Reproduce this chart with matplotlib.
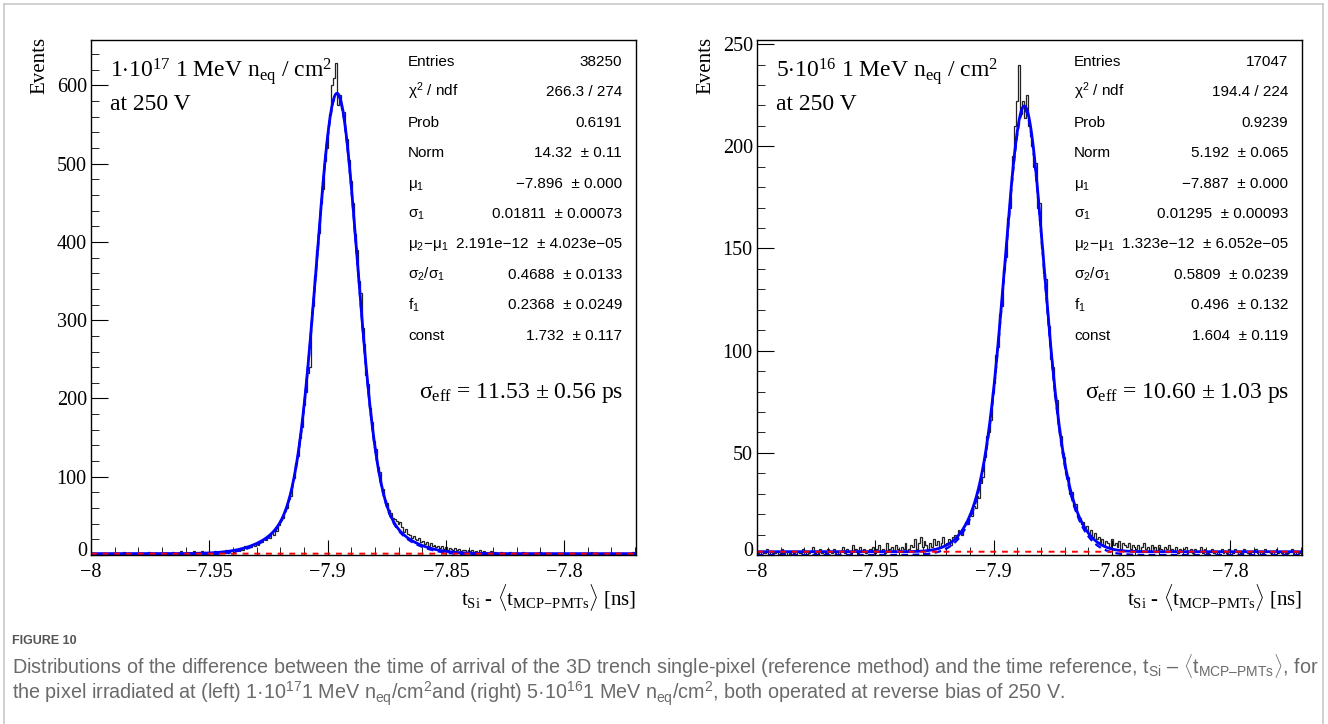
import numpy as np
import matplotlib
matplotlib.use('Agg')
import matplotlib.pyplot as plt
from matplotlib.ticker import MultipleLocator, FuncFormatter
from matplotlib.lines import Line2D

plt.rcParams['font.family'] = ['Liberation Serif', 'DejaVu Serif']
plt.rcParams['mathtext.fontset'] = 'custom'
plt.rcParams['mathtext.rm'] = 'Liberation Serif'
plt.rcParams['mathtext.it'] = 'Liberation Serif:italic'
plt.rcParams['mathtext.sf'] = 'Liberation Sans'

# histogram binning (ns)
x_lo = -8.0
bin_w = 0.0008
n_bins = 288

# bin contents
counts_left = [
    1, 2, 0, 1, 3, 1, 2, 2, 0, 1,
    2, 3, 1, 0, 2, 1, 2, 4, 1, 2,
    2, 1, 3, 2, 0, 2, 3, 1, 2, 2,
    4, 1, 2, 3, 2, 1, 3, 2, 2, 3,
    2, 3, 1, 4, 2, 3, 2, 5, 3, 2,
    3, 4, 2, 3, 5, 3, 4, 3, 5, 4,
    3, 2, 4, 2, 3, 5, 2, 4, 3, 5,
    4, 6, 3, 5, 7, 4, 6, 8, 5, 9,
    7, 11, 9, 12, 10, 14, 11, 15, 13, 18,
    16, 21, 19, 24, 22, 28, 26, 34, 31, 38,
    45, 47, 58, 60, 72, 76, 92, 98, 118, 127,
    150, 163, 192, 208, 232, 240, 296, 318, 356, 390,
    412, 450, 468, 503, 520, 548, 563, 600, 610, 628,
    575, 588, 570, 566, 540, 532, 505, 478, 450, 410,
    390, 350, 335, 290, 270, 230, 218, 188, 170, 146,
    135, 112, 106, 88, 84, 70, 66, 57, 54, 47,
    46, 44, 40, 42, 36, 30, 33, 27, 26, 22,
    24, 20, 19, 22, 16, 18, 14, 17, 12, 15,
    12, 13, 10, 11, 9, 12, 8, 10, 7, 9,
    8, 7, 9, 6, 8, 5, 7, 6, 4, 7,
    5, 6, 4, 5, 3, 6, 4, 5, 2, 4,
    3, 5, 2, 4, 3, 2, 4, 1, 3, 2,
    2, 4, 1, 3, 2, 3, 1, 2, 4, 2,
    1, 2, 3, 2, 1, 3, 2, 4, 1, 2,
    3, 1, 2, 2, 0, 3, 1, 2, 3, 1,
    2, 3, 1, 2, 1, 3, 2, 0, 2, 1,
    3, 2, 1, 2, 4, 1, 2, 3, 1, 2,
    2, 1, 3, 2, 1, 2, 0, 3, 2, 1,
    2, 3, 1, 2, 1, 2, 4, 2,
]
counts_right = [
    1, 0, 2, 1, 1, 3, 0, 2, 1, 1,
    2, 0, 1, 3, 1, 2, 0, 1, 2, 1,
    0, 2, 1, 1, 3, 2, 0, 1, 2, 4,
    1, 2, 0, 3, 1, 2, 1, 3, 2, 1,
    3, 1, 2, 0, 2, 4, 1, 3, 2, 1,
    5, 2, 3, 1, 4, 2, 3, 1, 2, 3,
    2, 4, 1, 3, 5, 2, 3, 1, 6, 2,
    3, 4, 2, 5, 3, 2, 4, 3, 6, 2,
    3, 5, 4, 8, 3, 6, 9, 4, 7, 5,
    3, 6, 4, 8, 5, 7, 4, 6, 9, 5,
    6, 8, 5, 9, 10, 8, 12, 11, 10, 14,
    16, 15, 20, 19, 24, 23, 29, 28, 35, 38,
    48, 58, 60, 66, 80, 84, 98, 102, 118, 122,
    140, 146, 165, 170, 186, 195, 210, 222, 240, 216,
    222, 214, 225, 210, 205, 200, 190, 192, 170, 172,
    150, 138, 135, 118, 112, 96, 92, 78, 76, 62,
    58, 50, 48, 40, 38, 30, 31, 24, 25, 19,
    18, 15, 16, 13, 14, 10, 12, 9, 11, 8,
    9, 6, 8, 5, 7, 6, 4, 8, 5, 6,
    4, 7, 3, 6, 5, 4, 6, 3, 5, 4,
    3, 5, 2, 4, 6, 3, 4, 2, 5, 3,
    4, 2, 5, 3, 2, 4, 3, 5, 2, 3,
    2, 4, 1, 3, 2, 3, 4, 1, 2, 3,
    1, 3, 2, 2, 4, 1, 3, 2, 1, 2,
    3, 1, 2, 0, 2, 3, 1, 2, 1, 3,
    2, 1, 3, 2, 0, 2, 1, 3, 2, 1,
    1, 2, 2, 3, 1, 0, 2, 1, 3, 2,
    2, 1, 0, 2, 3, 1, 2, 1, 2, 1,
    1, 2, 3, 1, 0, 2, 1, 2,
]

# fit parameters from the stat boxes: norm, mu1, sigma1, mu2-mu1, sigma2/sigma1, f1, const
fit_left = [14.32, -7.896, 0.01811, 2.191e-12, 0.4688, 0.2368, 1.732]
fit_right = [5.192, -7.887, 0.01295, 1.323e-12, 0.5809, 0.496, 1.604]

stat_labels = ['Entries', r'$\mathsf{\chi^{2}}$ / ndf', 'Prob', 'Norm',
               r'$\mathsf{\mu_{1}}$', r'$\mathsf{\sigma_{1}}$',
               r'$\mathsf{\mu_{2}{-}\mu_{1}}$', r'$\mathsf{\sigma_{2}/\sigma_{1}}$',
               r'$\mathsf{f_{1}}$', 'const']
stat_vals_left = ['38250', '266.3 / 274', '0.6191', '14.32  \u00b1 0.11',
                  '\u22127.896  \u00b1 0.000', '0.01811  \u00b1 0.00073',
                  '2.191e\u221212  \u00b1 4.023e\u221205', '0.4688  \u00b1 0.0133',
                  '0.2368  \u00b1 0.0249', '1.732  \u00b1 0.117']
stat_vals_right = ['17047', '194.4 / 224', '0.9239', '5.192  \u00b1 0.065',
                   '\u22127.887  \u00b1 0.000', '0.01295  \u00b1 0.00093',
                   '1.323e\u221212  \u00b1 6.052e\u221205', '0.5809  \u00b1 0.0239',
                   '0.496  \u00b1 0.132', '1.604  \u00b1 0.119']

fluence_left = r'$1{\cdot}10^{17}$ 1 MeV n$_{\mathrm{eq}}$ / cm$^{2}$'
fluence_right = r'$5{\cdot}10^{16}$ 1 MeV n$_{\mathrm{eq}}$ / cm$^{2}$'
sigma_left = r'$\mathrm{\sigma_{eff}}$ = 11.53 $\pm$ 0.56 ps'
sigma_right = r'$\mathrm{\sigma_{eff}}$ = 10.60 $\pm$ 1.03 ps'
ymax_left = 658
ymax_right = 252

W, H = 1328, 724
fig = plt.figure(figsize=(W / 100, H / 100), dpi=100)


def fx(px):
    return px / W


def fy(py):
    return 1 - py / H


def gaus(x, mu, s):
    return np.exp(-0.5 * ((x - mu) / s) ** 2) / (np.sqrt(2 * np.pi) * s)


def model(x, p, const=True):
    norm, mu1, s1, dmu, ratio, f1, c = p
    y = norm * (f1 * gaus(x, mu1, s1) + (1 - f1) * gaus(x, mu1 + dmu, s1 * ratio))
    if const:
        y = y + c
    return y


edges = x_lo + bin_w * np.arange(n_bins + 1)
x_hi = edges[-1]
xf = np.linspace(x_lo, x_hi, 1500)


def panel(x0, counts, fit, ymax, ymajor, yminor, fluence, sig, vals):
    ax = fig.add_axes([fx(x0), fy(555), 545 / W, 515 / H])
    ax.stairs(counts, edges, color='#222222', lw=0.9)
    ax.plot(xf, model(xf, fit, False), color='#0000ff', lw=1.6, ls=(0, (3, 2)))
    ax.plot(xf, model(xf, fit), color='#0000ff', lw=2.0)
    ax.plot(xf, np.full_like(xf, fit[6]), color='#ff0000', lw=1.4, ls=(0, (3, 3)))
    ax.set_xlim(x_lo, x_hi)
    ax.set_ylim(0, ymax)
    ax.xaxis.set_major_locator(MultipleLocator(0.05))
    ax.xaxis.set_minor_locator(MultipleLocator(0.01))
    ax.yaxis.set_major_locator(MultipleLocator(ymajor))
    ax.yaxis.set_minor_locator(MultipleLocator(yminor))
    ax.xaxis.set_major_formatter(FuncFormatter(lambda v, p: ('%g' % round(v, 3)).replace('-', '\u2212')))
    # the "0" label is drawn by hand a little higher so it clears the "-8"
    ax.yaxis.set_major_formatter(FuncFormatter(lambda v, p: '' if abs(v) < 1e-9 else '%g' % v))
    ax.tick_params(which='both', direction='in', top=False, right=False, labelsize=14.5)
    ax.tick_params(axis='x', which='major', length=11, pad=6)
    ax.tick_params(axis='x', which='minor', length=6)
    ax.tick_params(axis='y', which='major', length=12, pad=3)
    ax.tick_params(axis='y', which='minor', length=6)
    for s in ax.spines.values():
        s.set_linewidth(1.0)
    fig.text(fx(x0 - 4), fy(552), '0', ha='right', va='center', fontsize=14.5)
    fig.text(fx(x0 - 51), fy(37), 'Events', rotation=90, ha='center', va='top', fontsize=15)
    fig.text(fx(x0 + 545), fy(605),
             r'$\mathrm{t_{Si}}$ - $\langle\mathrm{t_{MCP{-}PMTs}}\rangle$ [ns]',
             ha='right', va='baseline', fontsize=15)
    fig.text(fx(x0 + 19), fy(77), fluence, ha='left', va='baseline', fontsize=17)
    fig.text(fx(x0 + 19), fy(110), 'at 250 V', ha='left', va='baseline', fontsize=17)
    fig.text(fx(x0 + 532), fy(398), sig, ha='right', va='baseline', fontsize=17)
    for i in range(len(stat_labels)):
        yb = 66 + 30.4 * i
        fig.text(fx(x0 + 317), fy(yb), stat_labels[i], ha='left', va='baseline',
                 fontsize=11, family='Liberation Sans')
        fig.text(fx(x0 + 531), fy(yb), vals[i], ha='right', va='baseline',
                 fontsize=11, family='Liberation Sans')
    return ax


panel(91, counts_left, fit_left, ymax_left, 100, 20, fluence_left, sigma_left, stat_vals_left)
panel(757, counts_right, fit_right, ymax_right, 50, 10, fluence_right, sigma_right, stat_vals_right)

# light frame around the figure
frame_col = '#c8c8c8'
fig.add_artist(Line2D([fx(4), fx(4)], [fy(4), 0], color=frame_col, lw=1.2))
fig.add_artist(Line2D([fx(4), fx(1323)], [fy(4), fy(4)], color=frame_col, lw=1.2))
fig.add_artist(Line2D([fx(1323), fx(1323)], [fy(4), 0], color=frame_col, lw=1.2))

# caption
cap_family = ['Liberation Sans', 'DejaVu Sans']
cap1 = ('Distributions of the difference between the time of arrival of the 3D trench single-pixel '
        '(reference method) and the time reference, $\\mathsf{t_{Si}}$ \u2013 '
        '$\\mathsf{\\langle t_{MCP\u2013PMTs}\\rangle}$, for')
cap2 = ('the pixel irradiated at (left) 1\u00b7$\\mathsf{10^{17}}$1 MeV n$\\mathsf{_{eq}}$/cm$\\mathsf{^{2}}$and '
        '(right) 5\u00b7$\\mathsf{10^{16}}$1 MeV n$\\mathsf{_{eq}}$/cm$\\mathsf{^{2}}$, '
        'both operated at reverse bias of 250 V.')
cap_col = '#6a6a6a'
fig.text(fx(12), fy(641), 'FIGURE 10', ha='left', va='center', fontsize=9, weight='bold',
         color='#555555', family=cap_family)
t1 = fig.text(fx(12), fy(666), cap1, ha='left', va='center', fontsize=12, color=cap_col,
              family=cap_family)
t2 = fig.text(fx(12), fy(694), cap2, ha='left', va='center', fontsize=12, color=cap_col,
              family=cap_family)
r = fig.canvas.get_renderer()
w1 = t1.get_window_extent(r).width
fs = 12 * 1306 / w1
t1.set_fontsize(fs)
t2.set_fontsize(fs)

fig.savefig('out.png', dpi=100)
